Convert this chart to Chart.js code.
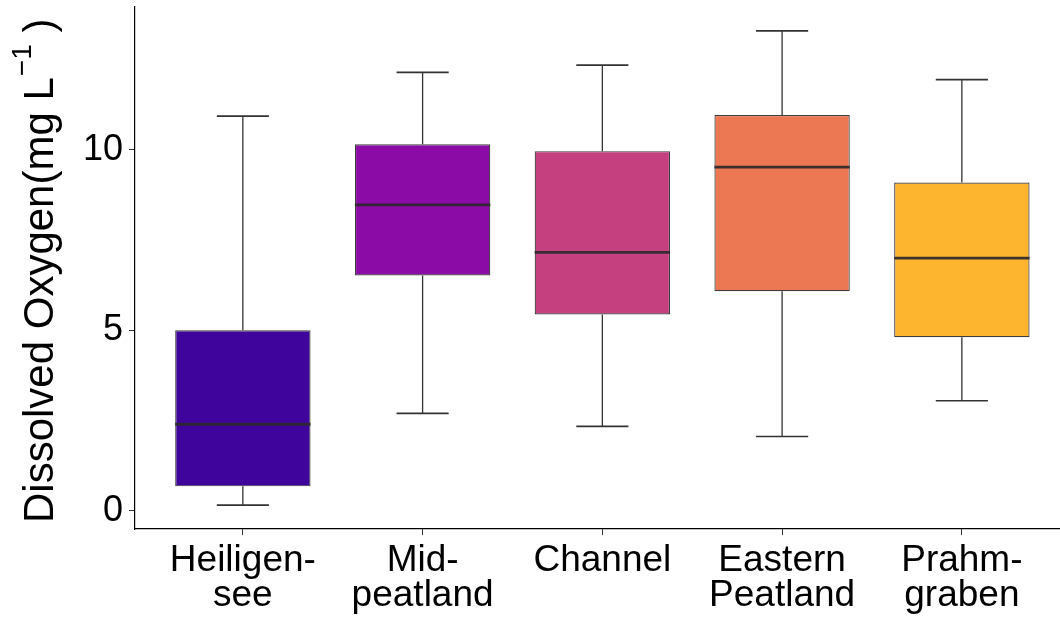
<!DOCTYPE html>
<html>
<head>
<meta charset="utf-8">
<script src="https://cdn.jsdelivr.net/npm/chart.js@4.4.1/dist/chart.umd.min.js"></script>
<style>
  html, body { margin: 0; padding: 0; background: #ffffff; }
  canvas { display: block; }
</style>
</head>
<body>
<canvas id="chart" width="1060" height="621"></canvas>
<script>
// Sampling sites (multi-line category labels)
const sites = [['Heiligen-', 'see'], ['Mid-', 'peatland'], ['Channel'], ['Eastern', 'Peatland'], ['Prahm-', 'graben']];
const sitePositions = [1, 2, 3, 4, 5];

// Dissolved oxygen summary statistics per site (mg/L)
const whiskerLow  = [0.16, 2.70, 2.34, 2.06, 3.05];
const quartile1   = [0.68, 6.52, 5.44, 6.08, 4.81];
const medians     = [2.40, 8.47, 7.16, 9.52, 7.00];
const quartile3   = [5.00, 10.15, 9.96, 10.96, 9.09];
const whiskerHigh = [10.93, 12.14, 12.34, 13.29, 11.94];

const yTickValues = [0, 5, 10];
const boxColors = ['#3F049C', '#8A0BA5', '#C4407E', '#EC7853', '#FDB52F'];

const FONT = "'Liberation Sans', Arial, 'DejaVu Sans', sans-serif";
const CAP_HALF = 0.145;   // half width of whisker caps, in x units

// Whiskers (behind the boxes) and median bars (on top of the boxes)
const boxplotLines = {
  id: 'boxplotLines',
  beforeDatasetsDraw(chart) {
    const { ctx } = chart;
    const xs = chart.scales.x, ys = chart.scales.y;
    ctx.save();
    ctx.strokeStyle = '#333333';
    ctx.lineWidth = 1.3;
    sitePositions.forEach((p, i) => {
      const cx = xs.getPixelForValue(p);
      const l = xs.getPixelForValue(p - CAP_HALF), r = xs.getPixelForValue(p + CAP_HALF);
      const yHi = ys.getPixelForValue(whiskerHigh[i]), yQ3 = ys.getPixelForValue(quartile3[i]);
      const yLo = ys.getPixelForValue(whiskerLow[i]), yQ1 = ys.getPixelForValue(quartile1[i]);
      ctx.beginPath();
      ctx.moveTo(cx, yHi); ctx.lineTo(cx, yQ3);
      ctx.moveTo(cx, yQ1); ctx.lineTo(cx, yLo);
      ctx.stroke();
      ctx.lineWidth = 1.6;
      ctx.beginPath();
      ctx.moveTo(l, yHi); ctx.lineTo(r, yHi);
      ctx.moveTo(l, yLo); ctx.lineTo(r, yLo);
      ctx.stroke();
      ctx.lineWidth = 1.3;
    });
    ctx.restore();
  },
  afterDatasetsDraw(chart) {
    const { ctx } = chart;
    const ys = chart.scales.y;
    const bars = chart.getDatasetMeta(0).data;
    ctx.save();
    ctx.strokeStyle = 'rgba(45,40,45,0.92)';
    ctx.lineWidth = 2.8;
    bars.forEach((bar, i) => {
      const half = bar.width / 2;
      const y = ys.getPixelForValue(medians[i]);
      ctx.beginPath();
      ctx.moveTo(bar.x - half, y);
      ctx.lineTo(bar.x + half, y);
      ctx.stroke();
    });
    ctx.restore();
  }
};

// Rotated y-axis title with a superscript unit exponent
const yAxisTitle = {
  id: 'yAxisTitle',
  afterDraw(chart) {
    const { ctx } = chart;
    const size = 42, supSize = 28;
    ctx.save();
    ctx.translate(53, 523);
    ctx.rotate(-Math.PI / 2);
    ctx.fillStyle = '#000000';
    ctx.textAlign = 'left';
    ctx.textBaseline = 'alphabetic';
    let x = 0;
    ctx.font = size + 'px ' + FONT;
    const main = 'Dissolved Oxygen(mg L';
    ctx.fillText(main, x, 0);
    x += ctx.measureText(main).width + 1;
    ctx.font = supSize + 'px ' + FONT;
    const sup = '\u22121';
    ctx.fillText(sup, x, -22);
    x += ctx.measureText(sup).width;
    ctx.font = size + 'px ' + FONT;
    ctx.fillText(' )', x, 0);
    ctx.restore();
  }
};

new Chart(document.getElementById('chart'), {
  type: 'bar',
  data: {
    datasets: [{
      data: sitePositions.map((p, i) => ({ x: p, y: [quartile1[i], quartile3[i]] })),
      backgroundColor: boxColors,
      borderColor: 'rgba(45,45,45,0.92)',
      borderWidth: 1.2,
      borderSkipped: false,
      barPercentage: 0.753,
      categoryPercentage: 1
    }]
  },
  options: {
    responsive: false,
    animation: false,
    events: [],
    layout: { padding: { top: 7, right: 0, bottom: 0, left: 0 } },
    plugins: { legend: { display: false }, tooltip: { enabled: false }, title: { display: false } },
    scales: {
      x: {
        type: 'linear',
        min: 0.4,
        max: 5.546,
        offset: false,
        afterBuildTicks(scale) { scale.ticks = sitePositions.map(v => ({ value: v })); },
        grid: { display: true, offset: false, drawOnChartArea: false, drawTicks: true, tickLength: 6, color: '#333333', lineWidth: 1 },
        border: { display: true, color: '#000000', width: 1.2 },
        ticks: {
          autoSkip: false,
          maxRotation: 0,
          minRotation: 0,
          padding: 8,
          color: '#000000',
          font: { family: FONT, size: 37, lineHeight: '35px' },
          callback: (v) => sites[sitePositions.indexOf(v)]
        },
        afterFit(scale) { scale.height = 92; scale.paddingLeft = 0; scale.paddingRight = 0; }
      },
      y: {
        type: 'linear',
        min: -0.5,
        max: 13.95,
        afterBuildTicks(scale) { scale.ticks = yTickValues.map(v => ({ value: v })); },
        grid: { display: true, offset: false, drawOnChartArea: false, drawTicks: true, tickLength: 6, color: '#333333', lineWidth: 1 },
        border: { display: true, color: '#000000', width: 1.2 },
        ticks: {
          padding: 6,
          color: '#000000',
          font: { family: FONT, size: 36 },
          callback: (v) => String(v)
        },
        afterFit(scale) { scale.width = 135; scale.paddingTop = 0; scale.paddingBottom = 0; }
      }
    }
  },
  plugins: [boxplotLines, yAxisTitle]
});
</script>
</body>
</html>
